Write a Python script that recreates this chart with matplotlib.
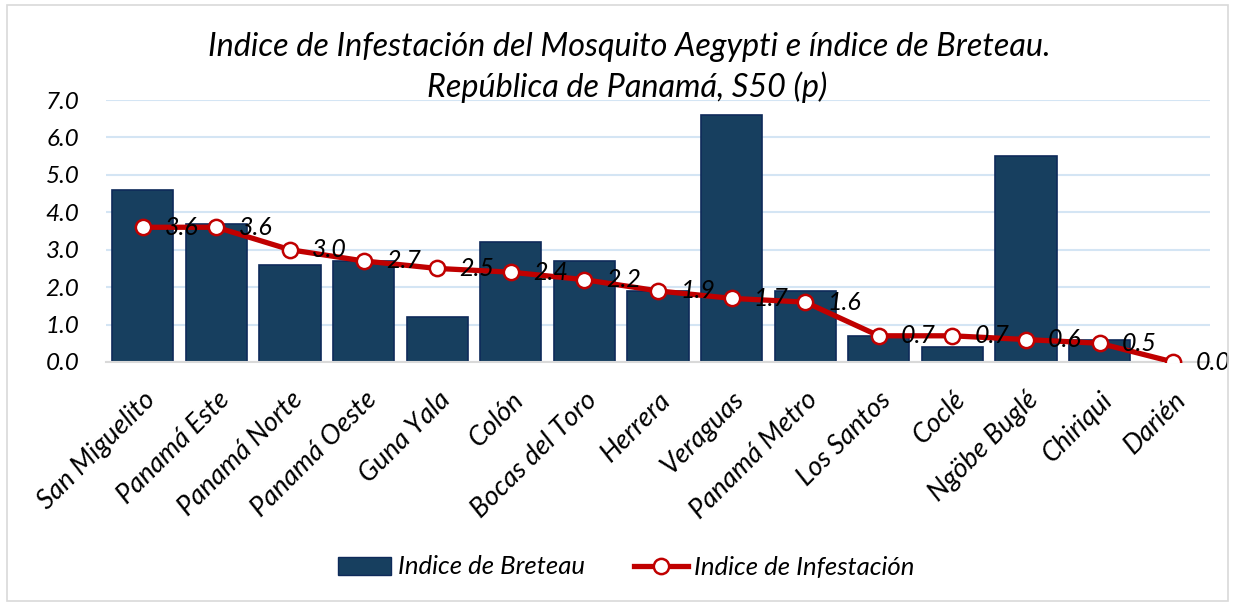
import matplotlib.pyplot as plt
import matplotlib.patches as mpatches
from matplotlib.lines import Line2D

# datos
regiones = ["San Miguelito", "Panamá Este", "Panamá Norte", "Panamá Oeste", "Guna Yala",
            "Colón", "Bocas del Toro", "Herrera", "Veraguas", "Panamá Metro",
            "Los Santos", "Coclé", "Ngöbe Buglé", "Chiriqui", "Darién"]
breteau = [4.6, 3.7, 2.6, 2.7, 1.2, 3.2, 2.7, 1.9, 6.6, 1.9, 0.7, 0.4, 5.5, 0.6, 0.0]
infestacion = [3.6, 3.6, 3.0, 2.7, 2.5, 2.4, 2.2, 1.9, 1.7, 1.6, 0.7, 0.7, 0.6, 0.5, 0.0]
yticks = [0, 1, 2, 3, 4, 5, 6, 7]

azul = "#173F5F"
borde = "#0E2A5A"
rojo = "#C00000"
fuente = "Lato"

plt.rcParams['font.family'] = [fuente, 'DejaVu Sans']

fig = plt.figure(figsize=(12.35, 6.06), dpi=100)
ax = fig.add_axes([106 / 1235, 1 - 362 / 606, (1210 - 106) / 1235, 262 / 606])

x = range(len(regiones))
ax.bar(x, breteau, width=0.83, color=azul, edgecolor=borde, linewidth=1.2, zorder=2)
ax.plot(x, infestacion, color=rojo, linewidth=3.8, marker="o", markersize=11,
        markerfacecolor="white", markeredgecolor=rojo, markeredgewidth=1.8, zorder=3)

for i, v in enumerate(infestacion):
    ax.annotate(f"{v:.1f}", (i, v), xytext=(16, 0), textcoords="offset points",
                ha="left", va="center", fontsize=18, style="italic", zorder=4)

ax.set_xlim(-0.5, len(regiones) - 0.5)
ax.set_ylim(0, 7)
ax.set_yticks(yticks)
ax.set_yticklabels([f"{t:.1f}" for t in yticks], fontsize=17.5, style="italic")
ax.set_xticks(list(x))
ax.set_xticklabels(regiones, rotation=45, ha="right", rotation_mode="anchor",
                   fontsize=19.5, style="italic")
ax.tick_params(axis="x", length=0, pad=18)
ax.tick_params(axis="y", length=0, pad=19)

ax.grid(axis="y", color="#D4E5F4", linewidth=1.5, zorder=0)
ax.set_axisbelow(True)
for s in ["top", "right", "left"]:
    ax.spines[s].set_visible(False)
ax.spines["bottom"].set_color("#D9D9D9")
ax.spines["bottom"].set_linewidth(1.5)

fig.text(629 / 1235, 1 - 47 / 606, "Indice de Infestación del Mosquito Aegypti e índice de Breteau.",
         ha="center", va="center", fontsize=23.3, style="italic")
fig.text(627 / 1235, 1 - 87 / 606, "República de Panamá, S50 (p)",
         ha="center", va="center", fontsize=23.3, style="italic")

handles = [mpatches.Patch(facecolor=azul, edgecolor=borde),
           Line2D([0], [0], color=rojo, linewidth=3.8, marker="o", markersize=11,
                  markerfacecolor="white", markeredgecolor=rojo, markeredgewidth=1.8)]
leg = fig.legend(handles, ["Indice de Breteau", "Indice de Infestación"],
                 loc="center", bbox_to_anchor=(626 / 1235, 1 - 567 / 606), ncol=2,
                 frameon=False, prop={"family": fuente, "style": "italic", "size": 18.5},
                 handlelength=2.1, handletextpad=0.25, columnspacing=1.9)

fig.patches.append(mpatches.Rectangle((7 / 1235, 5 / 606), 1221 / 1235, 596 / 606,
                                      transform=fig.transFigure, fill=False,
                                      edgecolor="#D9D9D9", linewidth=1.2))

fig.savefig("out.png", dpi=100)
